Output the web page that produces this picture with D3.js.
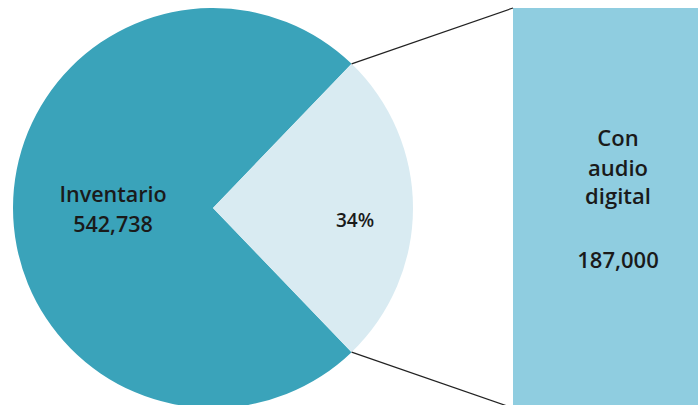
<!DOCTYPE html>
<html><head><meta charset="utf-8">
<script src="https://cdn.jsdelivr.net/npm/d3@7"></script>
<style>body{margin:0;background:#fff}svg{display:block}text{font-family:"Open Sans",sans-serif;font-weight:600;fill:#1a1a1a}</style>
</head><body>
<svg id="c" width="698" height="405"></svg>
<script>
const categories = ["Inventario", "Con audio digital"];
const values = [542738, 187000];
const pieLabels = [["Inventario", "542,738"], ["34%"]];
const barLabels = ["Con", "audio", "digital", "", "187,000"];
const colors = ["#3aa3ba", "#d9ebf2"];
const barColor = "#8fcde0";

(function () {
const svg = d3.select("#c");
const cx = 213, cy = 208, R = 200;
const total = d3.sum(values);
const a = 2 * Math.PI * values[1] / total;
const start = Math.PI / 2 + a / 2;
const pie = d3.pie().sort(null).startAngle(start).endAngle(start + 2 * Math.PI);
const arcs = pie(values);
const arc = d3.arc().innerRadius(0).outerRadius(R);
const g = svg.append("g").attr("transform", `translate(${cx},${cy})`);
g.selectAll("path").data(arcs).join("path").attr("d", arc).attr("fill", (d, i) => colors[i]);

const x = d3.scaleBand().domain([categories[1]]).range([513, 698]);
const y = d3.scaleLinear().domain([0, values[1]]).range([408, 8]);
svg.append("rect").attr("x", x(categories[1])).attr("width", x.bandwidth())
  .attr("y", y(values[1])).attr("height", y(0) - y(values[1])).attr("fill", barColor);

const sl = arcs[1];
const pt = ang => [cx + R * Math.sin(ang), cy - R * Math.cos(ang)];
const p1 = pt(sl.startAngle), p2 = pt(sl.endAngle);
const pTop = p2[1] < p1[1] ? p2 : p1, pBot = p2[1] < p1[1] ? p1 : p2;
svg.append("line").attr("x1", pTop[0]).attr("y1", pTop[1]).attr("x2", x(categories[1])).attr("y2", y(values[1]))
  .attr("stroke", "#222").attr("stroke-width", 1.2);
svg.append("line").attr("x1", pBot[0]).attr("y1", pBot[1]).attr("x2", x(categories[1])).attr("y2", y(0))
  .attr("stroke", "#222").attr("stroke-width", 1.2);

const t1 = svg.append("text").attr("text-anchor", "middle").attr("font-size", 21.5);
t1.append("tspan").attr("x", 113).attr("y", 202).text(pieLabels[0][0]);
t1.append("tspan").attr("x", 113).attr("y", 232).text(pieLabels[0][1]);
svg.append("text").attr("text-anchor", "middle").attr("font-size", 19).attr("x", 355).attr("y", 227).text(pieLabels[1][0]);
const t2 = svg.append("text").attr("text-anchor", "middle").attr("font-size", 22);
const ys = [146, 176, 204, 236, 268];
barLabels.forEach((s, i) => t2.append("tspan").attr("x", 618).attr("y", ys[i]).text(s));
})();
</script>
</body></html>
